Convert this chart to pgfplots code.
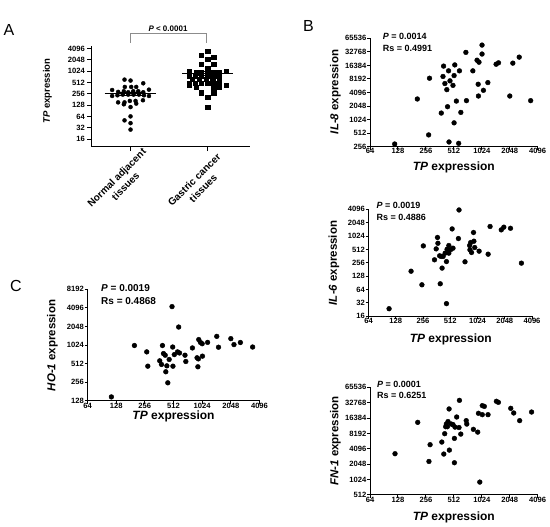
\documentclass[border=0pt]{standalone}
\usepackage{fontspec}
\setmainfont{Liberation Sans}
\usepackage{pgfplots}
\usepackage{pgfplotstable}
\pgfplotsset{compat=1.18}

\pgfplotstableread{
x y
-0.078 614
0 580
0.165 491
-0.074 393
0.009 393
0.074 393
-0.239 326
0.239 333
-0.161 290
-0.087 302
-0.03 284
0.035 302
0.1 302
0.165 284
-0.239 226
-0.17 236
-0.1 246
-0.03 246
0.04 246
0.109 246
0.174 236
0.239 226
-0.161 153
-0.078 153
-0.009 167
0.065 167
0.161 174
-0.087 136
0.074 142
0 115
0 65
-0.078 51
0 43
0 29
}\normaltab

\pgfplotstableread{
x y
1 3550
0.922 2720
1.078 2370
1 2130
0.922 1540
1.078 1540
1 1210
0.761 1045
1.239 1045
0.848 943
0.922 943
1 960
1.078 943
1.152 943
0.761 770
0.839 770
0.922 770
1 770
1.078 770
1.152 770
0.804 626
0.891 626
0.978 626
1.065 626
1.152 626
0.761 500
0.839 500
0.922 500
1 500
1.078 500
1.152 500
0.761 435
1.239 435
0.848 393
1.078 393
1.152 393
0.922 278
1.078 278
1 205
1 115
}\gastrictab

\pgfplotstableread{
x y
118 294
207 2940
280 8500
274 468
375 1430
397 15800
391 9300
410 6480
430 4740
438 1980
449 12400
454 326
465 7430
501 5900
515 9740
515 867
524 16800
545 2640
588 12400
577 304
609 1480
690 31900
700 2700
820 12400
910 21400
936 6250
942 3420
955 19300
1030 46300
1030 29300
1066 4580
1190 6800
1460 17400
1550 18700
2050 3420
2210 18400
2590 25000
3440 2700
}\ileighttab

\pgfplotstableread{
x y
108 23.6
189 165
249 81.6
258 614
343 298
358 526
370 950
374 703
391 367
397 86
407 355
416 194
427 355
449 421
465 30.7
465 272
472 515
494 626
494 421
519 508
537 1480
549 545
630 898
640 3960
745 269
838 626
845 500
860 730
880 436
925 1230
934 783
955 564
1067 467
1342 399
1410 1680
1875 1410
2000 1620
2370 1530
3130 251
}\ilsixtab

\pgfplotstableread{
x y
119 3290
209 13500
276 2320
284 4940
380 5560
399 3240
408 8100
418 11100
436 11100
425 12500
455 24700
443 14000
458 3870
481 12500
501 12200
519 6560
519 2190
527 10900
549 17200
582 10700
588 36400
608 7960
696 14600
706 12500
831 9870
925 8700
942 20300
974 916
1037 19100
1037 28700
1090 27700
1195 19100
1470 34900
1545 33300
2100 25400
2260 20600
2620 14600
3520 21500
}\fntab

\pgfplotstableread{
x y
114 149
199 1010
268 797
275 468
367 571
383 499
392 1010
402 749
419 704
425 380
436 474
446 252
461 601
494 4300
502 955
505 468
522 720
564 797
580 2010
592 765
676 704
690 557
809 923
905 640
923 458
943 1260
934 614
982 1135
1031 680
1024 1080
1168 1135
1458 1420
1520 948
2048 1305
2210 1045
2580 1130
3470 955
}\hotab

\newcommand{\lbl}{\fontsize{12}{12}\selectfont\bfseries}
\newcommand{\stat}{\fontsize{9}{9}\selectfont\bfseries}
\newcommand{\tkf}{\fontsize{7.6}{7.6}\selectfont\bfseries}

\begin{document}
\begin{tikzpicture}
\path[use as bounding box] (0pt,0pt) rectangle (550pt,-527pt);

% ---------- Panel A ----------
\begin{axis}[scale only axis, anchor=south west, at={(92pt,-146.7pt)}, width=158pt, height=100.4pt,
  axis x line*=bottom, axis y line*=left,
  axis line style={line width=1pt, black},
  major tick style={line width=1pt, black}, major tick length=4.5pt, tick align=outside,
  ymode=log, log basis y=2, clip=false,
  xmin=-0.5, xmax=1.55, ymin=10.2, ymax=4705,
  xtick={0,1}, xticklabels={},
  ytick={16,32,64,128,256,512,1024,2048,4096},
  yticklabels={16,32,64,128,256,512,1024,2048,4096},
  tick label style={font=\tkf, inner sep=0.5pt},
  yticklabel style={xshift=-2pt}]
\addplot[only marks, mark=*, mark size=2pt, black] table {\normaltab};
\addplot[only marks, mark=square*, mark size=2.1pt, black] table {\gastrictab};
\addplot[black, line width=1pt] coordinates {(-0.335,262) (0.335,262)};
\addplot[black, line width=0.7pt] coordinates {(-0.17,239) (0.17,239)};
\addplot[black, line width=0.7pt] coordinates {(-0.17,284) (0.17,284)};
\addplot[black, line width=1pt] coordinates {(0.665,885) (1.335,885)};
\addplot[black, line width=0.7pt] coordinates {(0.83,787) (1.17,787)};
\addplot[black, line width=0.7pt] coordinates {(0.83,990) (1.17,990)};
\end{axis}
\node[anchor=base west, inner sep=0pt, font=\fontsize{16}{16}\selectfont] at (3.5pt,-35.5pt) {A};
\draw[line width=0.7pt, black!45] (130pt,-43pt) -- (130pt,-33.3pt) -- (206.7pt,-33.3pt) -- (206.7pt,-43pt);
\node[anchor=base, inner sep=0pt, font=\fontsize{8}{8}\selectfont\bfseries] at (168pt,-31.3pt) {\textit{P} < 0.0001};
\node[rotate=90, inner sep=0pt, font=\fontsize{9.5}{9.5}\selectfont\bfseries] at (47.5pt,-91pt) {\textit{TP} expression};
\node[rotate=45, align=center, inner sep=0pt, font=\fontsize{10}{12.5}\selectfont\bfseries] at (121pt,-182pt) {Normal adjacent\\tissues};
\node[rotate=45, align=center, inner sep=0pt, font=\fontsize{10}{12.5}\selectfont\bfseries] at (198.7pt,-184pt) {Gastric cancer\\tissues};

% ---------- Panel B: IL-8 ----------
\begin{axis}[scale only axis, anchor=south west, at={(370pt,-146.7pt)}, width=167.7pt, height=108.4pt,
  axis x line*=bottom, axis y line*=left,
  axis line style={line width=1pt, black},
  major tick style={line width=1pt, black}, major tick length=3pt, tick align=outside,
  xmode=log, ymode=log, log basis x=2, log basis y=2, clip=false,
  tick label style={font=\tkf, inner sep=0.5pt},
  xticklabel style={yshift=1.8pt},
  xmin=64, xmax=4096,
  xtick={64,128,256,512,1024,2048,4096},
  xticklabels={64,128,256,512,1024,2048,4096},
  ymin=256, ymax=65536,
  ytick={256,512,1024,2048,4096,8192,16384,32768,65536},
  yticklabels={256,512,1024,2048,4096,8192,16384,32768,65536}]
\addplot[only marks, mark=*, mark size=2.4pt, black] table {\ileighttab};
\end{axis}
\node[anchor=base west, inner sep=0pt, font=\fontsize{16}{16}\selectfont] at (303pt,-31.5pt) {B};
\node[anchor=base west, inner sep=0pt, font=\stat] at (382.7pt,-39.2pt) {\textit{P} = 0.0014};
\node[anchor=base west, inner sep=0pt, font=\stat] at (382.7pt,-51.2pt) {Rs = 0.4991};
\node[rotate=90, inner sep=0pt, font=\fontsize{11.5}{11.5}\selectfont\bfseries] at (335.5pt,-92pt) {\textit{IL-8} expression};
\node[anchor=base, inner sep=0pt, font=\lbl] at (453.8pt,-170.5pt) {\textit{TP} expression};

% ---------- Panel B: IL-6 ----------
\begin{axis}[scale only axis, anchor=south west, at={(368.5pt,-316.2pt)}, width=163.5pt, height=106.9pt,
  axis x line*=bottom, axis y line*=left,
  axis line style={line width=1pt, black},
  major tick style={line width=1pt, black}, major tick length=3pt, tick align=outside,
  xmode=log, ymode=log, log basis x=2, log basis y=2, clip=false,
  tick label style={font=\tkf, inner sep=0.5pt},
  xticklabel style={yshift=1.8pt},
  xmin=64, xmax=4096,
  xtick={64,128,256,512,1024,2048,4096},
  xticklabels={64,128,256,512,1024,2048,4096},
  ymin=16, ymax=4096,
  ytick={16,32,64,128,256,512,1024,2048,4096},
  yticklabels={16,32,64,128,256,512,1024,2048,4096}]
\addplot[only marks, mark=*, mark size=2.4pt, black] table {\ilsixtab};
\end{axis}
\node[anchor=base west, inner sep=0pt, font=\stat] at (376.5pt,-208.7pt) {\textit{P} = 0.0019};
\node[anchor=base west, inner sep=0pt, font=\stat] at (376.5pt,-220.7pt) {Rs = 0.4886};
\node[rotate=90, inner sep=0pt, font=\fontsize{11.5}{11.5}\selectfont\bfseries] at (334pt,-263pt) {\textit{IL-6} expression};
\node[anchor=base, inner sep=0pt, font=\lbl] at (450.8pt,-342.3pt) {\textit{TP} expression};

% ---------- Panel B: FN-1 ----------
\begin{axis}[scale only axis, anchor=south west, at={(370pt,-495pt)}, width=167.7pt, height=107.7pt,
  axis x line*=bottom, axis y line*=left,
  axis line style={line width=1pt, black},
  major tick style={line width=1pt, black}, major tick length=3pt, tick align=outside,
  xmode=log, ymode=log, log basis x=2, log basis y=2, clip=false,
  tick label style={font=\tkf, inner sep=0.5pt},
  xticklabel style={yshift=1.8pt},
  xmin=64, xmax=4096,
  xtick={64,128,256,512,1024,2048,4096},
  xticklabels={64,128,256,512,1024,2048,4096},
  ymin=512, ymax=65536,
  ytick={512,1024,2048,4096,8192,16384,32768,65536},
  yticklabels={512,1024,2048,4096,8192,16384,32768,65536}]
\addplot[only marks, mark=*, mark size=2.4pt, black] table {\fntab};
\end{axis}
\node[anchor=base west, inner sep=0pt, font=\stat] at (377pt,-387.3pt) {\textit{P} = 0.0001};
\node[anchor=base west, inner sep=0pt, font=\stat] at (377pt,-398.6pt) {Rs = 0.6251};
\node[rotate=90, inner sep=0pt, font=\fontsize{11.5}{11.5}\selectfont\bfseries] at (335.5pt,-441pt) {\textit{FN-1} expression};
\node[anchor=base, inner sep=0pt, font=\lbl] at (453.8pt,-520.5pt) {\textit{TP} expression};

% ---------- Panel C: HO-1 ----------
\begin{axis}[scale only axis, anchor=south west, at={(87.5pt,-401pt)}, width=172pt, height=111.7pt,
  axis x line*=bottom, axis y line*=left,
  axis line style={line width=1pt, black},
  major tick style={line width=1pt, black}, major tick length=3pt, tick align=outside,
  xmode=log, ymode=log, log basis x=2, log basis y=2, clip=false,
  tick label style={font=\tkf, inner sep=0.5pt},
  xticklabel style={yshift=1.8pt},
  xmin=64, xmax=4096,
  xtick={64,128,256,512,1024,2048,4096},
  xticklabels={64,128,256,512,1024,2048,4096},
  ymin=128, ymax=8192,
  ytick={128,256,512,1024,2048,4096,8192},
  yticklabels={128,256,512,1024,2048,4096,8192}]
\addplot[only marks, mark=*, mark size=2.4pt, black] table {\hotab};
\end{axis}
\node[anchor=base west, inner sep=0pt, font=\fontsize{16}{16}\selectfont] at (10pt,-291.7pt) {C};
\node[anchor=base west, inner sep=0pt, font=\fontsize{10}{10}\selectfont\bfseries] at (101pt,-291pt) {\textit{P} = 0.0019};
\node[anchor=base west, inner sep=0pt, font=\fontsize{10}{10}\selectfont\bfseries] at (101pt,-304.4pt) {Rs = 0.4868};
\node[rotate=90, inner sep=0pt, font=\fontsize{11.5}{11.5}\selectfont\bfseries] at (52.5pt,-345.5pt) {\textit{HO-1} expression};
\node[anchor=base, inner sep=0pt, font=\lbl] at (173.5pt,-419.5pt) {\textit{TP} expression};

\end{tikzpicture}
\end{document}
